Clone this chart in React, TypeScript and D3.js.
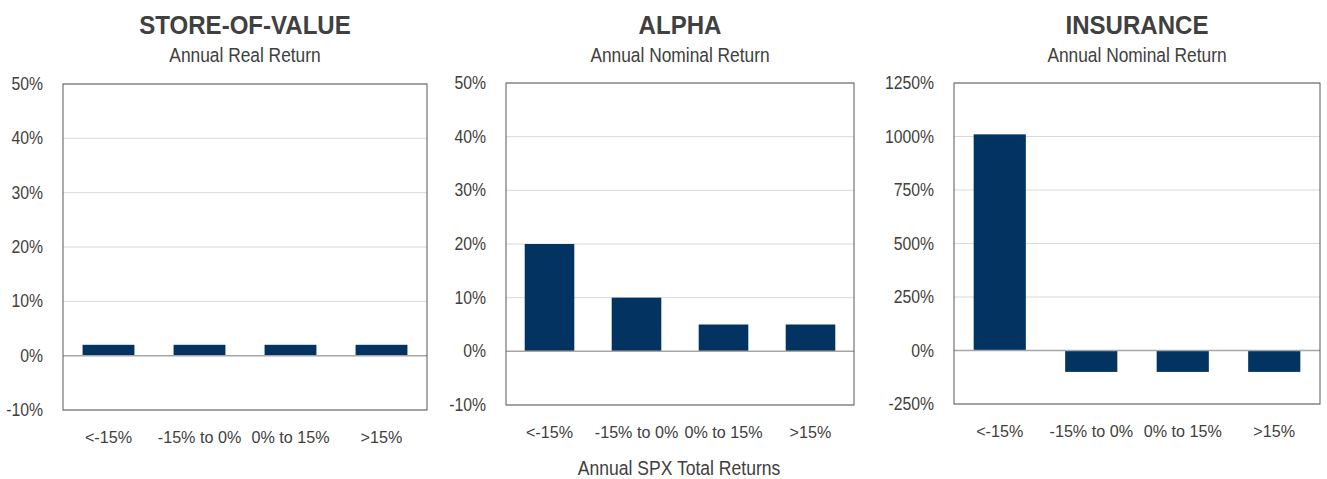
import React, { useEffect, useRef } from 'react';
import * as d3 from 'd3';

const CATEGORIES = ['<-15%', '-15% to 0%', '0% to 15%', '>15%'];
const STORE_OF_VALUE = [2, 2, 2, 2];
const ALPHA = [20, 10, 5, 5];
const INSURANCE = [1010, -100, -100, -100];

const SOV_TICKS = [-10, 0, 10, 20, 30, 40, 50];
const ALPHA_TICKS = [-10, 0, 10, 20, 30, 40, 50];
const INS_TICKS = [-250, 0, 250, 500, 750, 1000, 1250];

const PANELS = [
  { title: 'STORE-OF-VALUE', sub: 'Annual Real Return', values: STORE_OF_VALUE, ticks: SOV_TICKS, box: [63, 84, 427, 410] },
  { title: 'ALPHA', sub: 'Annual Nominal Return', values: ALPHA, ticks: ALPHA_TICKS, box: [506, 83, 854, 405] },
  { title: 'INSURANCE', sub: 'Annual Nominal Return', values: INSURANCE, ticks: INS_TICKS, box: [954, 83, 1320, 404] },
];

const FONT = '"Liberation Sans", Arial, sans-serif';
const TEXT = '#404040';
const BAR = '#023361';

// narrow-ish text: the original uses a condensed face, so squeeze horizontally
function label(
  parent: d3.Selection<any, any, any, any>,
  x: number,
  y: number,
  txt: string,
  size: number,
  sx: number,
  anchor = 'middle',
  weight = 400,
) {
  return parent
    .append('text')
    .attr('transform', `translate(${x},${y}) scale(${sx},1)`)
    .attr('text-anchor', anchor)
    .attr('font-family', FONT)
    .attr('font-size', size)
    .attr('font-weight', weight)
    .attr('fill', TEXT)
    .text(txt);
}

export default function App() {
  const ref = useRef<SVGSVGElement>(null);

  useEffect(() => {
    const svg = d3.select(ref.current);
    svg.selectAll('*').remove();

    PANELS.forEach((p) => {
      const [x0, y0, x1, y1] = p.box;
      const x = d3.scaleBand().domain(CATEGORIES).range([x0, x1]).paddingInner(0.43).paddingOuter(0.215);
      const y = d3.scaleLinear().domain([p.ticks[0], p.ticks[p.ticks.length - 1]]).range([y1, y0]);
      const g = svg.append('g');

      g.selectAll('line.grid')
        .data(p.ticks.filter((t) => t !== 0))
        .join('line')
        .attr('x1', x0)
        .attr('x2', x1)
        .attr('y1', (d) => y(d))
        .attr('y2', (d) => y(d))
        .attr('stroke', '#d9d9d9')
        .attr('stroke-width', 1);

      g.selectAll('rect.bar')
        .data(p.values)
        .join('rect')
        .attr('x', (_, i) => x(CATEGORIES[i]) ?? 0)
        .attr('width', x.bandwidth())
        .attr('y', (d) => y(Math.max(0, d)))
        .attr('height', (d) => Math.abs(y(d) - y(0)))
        .attr('fill', BAR);

      g.append('line')
        .attr('x1', x0)
        .attr('x2', x1)
        .attr('y1', y(0))
        .attr('y2', y(0))
        .attr('stroke', '#a6a6a6')
        .attr('stroke-width', 1.5);

      g.append('rect')
        .attr('x', x0)
        .attr('y', y0)
        .attr('width', x1 - x0)
        .attr('height', y1 - y0)
        .attr('fill', 'none')
        .attr('stroke', '#595959')
        .attr('stroke-width', 1);

      p.ticks.forEach((t) => {
        label(g, x0 - 20, y(t) + 6, `${t}%`, 17.5, 0.9, 'end');
      });

      CATEGORIES.forEach((c) => {
        label(g, (x(c) ?? 0) + x.bandwidth() / 2, y1 + 33, c, 17, 0.95);
      });

      const cx = (x0 + x1) / 2;
      label(g, cx, 34, p.title, 26, 0.925, 'middle', 700);
      label(g, cx, 62, p.sub, 19.5, 0.89);
    });

    label(svg, 679, 475, 'Annual SPX Total Returns', 19.5, 0.9);
  }, []);

  return (
    <svg
      ref={ref}
      width={1327}
      height={479}
      style={{ position: 'absolute', left: 0, top: 0, background: '#fff' }}
    />
  );
}
